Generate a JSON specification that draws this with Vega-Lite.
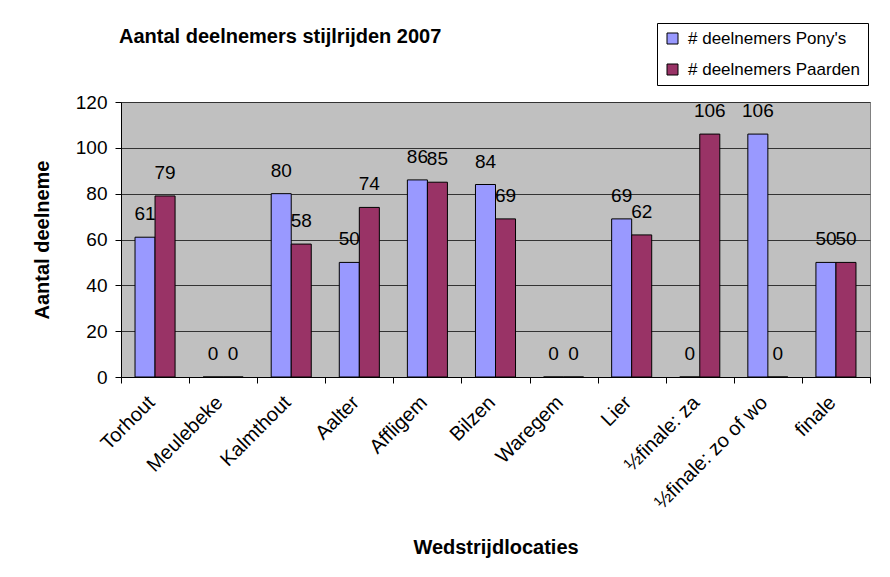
{
  "$schema": "https://vega.github.io/schema/vega-lite/v6.json",
  "width": 749,
  "height": 275,
  "autosize": {"type": "none"},
  "padding": {"left": 121, "top": 102, "right": 20, "bottom": 200},
  "background": "white",
  "title": {
    "text": "Aantal deelnemers stijlrijden 2007",
    "anchor": "start",
    "frame": "group",
    "dx": -2,
    "offset": -40,
    "baseline": "alphabetic",
    "font": "Liberation Sans",
    "fontSize": 20,
    "fontWeight": "bold",
    "color": "black"
  },
  "data": {
    "values": [
      {"locatie": "Torhout", "reeks": "# deelnemers Pony's", "aantal": 61},
      {"locatie": "Torhout", "reeks": "# deelnemers Paarden", "aantal": 79},
      {"locatie": "Meulebeke", "reeks": "# deelnemers Pony's", "aantal": 0},
      {"locatie": "Meulebeke", "reeks": "# deelnemers Paarden", "aantal": 0},
      {"locatie": "Kalmthout", "reeks": "# deelnemers Pony's", "aantal": 80},
      {"locatie": "Kalmthout", "reeks": "# deelnemers Paarden", "aantal": 58},
      {"locatie": "Aalter", "reeks": "# deelnemers Pony's", "aantal": 50},
      {"locatie": "Aalter", "reeks": "# deelnemers Paarden", "aantal": 74},
      {"locatie": "Affligem", "reeks": "# deelnemers Pony's", "aantal": 86},
      {"locatie": "Affligem", "reeks": "# deelnemers Paarden", "aantal": 85},
      {"locatie": "Bilzen", "reeks": "# deelnemers Pony's", "aantal": 84},
      {"locatie": "Bilzen", "reeks": "# deelnemers Paarden", "aantal": 69},
      {"locatie": "Waregem", "reeks": "# deelnemers Pony's", "aantal": 0},
      {"locatie": "Waregem", "reeks": "# deelnemers Paarden", "aantal": 0},
      {"locatie": "Lier", "reeks": "# deelnemers Pony's", "aantal": 69},
      {"locatie": "Lier", "reeks": "# deelnemers Paarden", "aantal": 62},
      {"locatie": "½finale: za", "reeks": "# deelnemers Pony's", "aantal": 0},
      {"locatie": "½finale: za", "reeks": "# deelnemers Paarden", "aantal": 106},
      {"locatie": "½finale: zo of wo", "reeks": "# deelnemers Pony's", "aantal": 106},
      {"locatie": "½finale: zo of wo", "reeks": "# deelnemers Paarden", "aantal": 0},
      {"locatie": "finale", "reeks": "# deelnemers Pony's", "aantal": 50},
      {"locatie": "finale", "reeks": "# deelnemers Paarden", "aantal": 50}
    ]
  },
  "encoding": {
    "x": {
      "field": "locatie",
      "type": "nominal",
      "sort": null,
      "scale": {"paddingInner": 0, "paddingOuter": 0},
      "axis": {
        "title": "Wedstrijdlocaties",
        "titleFont": "Liberation Sans",
        "titleFontSize": 20,
        "titleFontWeight": "bold",
        "titleColor": "black",
        "titleY": 176,
        "titleBaseline": "alphabetic",
        "labelAngle": -45,
        "labelAlign": "right",
        "labelBaseline": "top",
        "labelFont": "Liberation Sans",
        "labelFontSize": 20,
        "labelColor": "black",
        "labelPadding": 9,
        "labelOffset": -11,
        "labelLimit": 300,
        "tickBand": "extent",
        "tickSize": 6,
        "tickColor": "black",
        "domainColor": "black",
        "grid": false
      }
    },
    "xOffset": {
      "field": "reeks",
      "type": "nominal",
      "sort": ["# deelnemers Pony's", "# deelnemers Paarden"],
      "scale": {"paddingInner": 0, "paddingOuter": 0.7}
    },
    "y": {
      "field": "aantal",
      "type": "quantitative",
      "scale": {"domain": [0, 120], "nice": false},
      "axis": {
        "title": "Aantal deelneme",
        "titleFont": "Liberation Sans",
        "titleFontSize": 20,
        "titleFontWeight": "bold",
        "titleColor": "black",
        "titleX": -79,
        "titleY": 137.5,
        "titleAlign": "center",
        "titleBaseline": "middle",
        "values": [0, 20, 40, 60, 80, 100, 120],
        "labelFont": "Liberation Sans",
        "labelFontSize": 19,
        "labelColor": "black",
        "labelPadding": 8,
        "tickSize": 6,
        "tickColor": "black",
        "domainColor": "black",
        "gridColor": "#333333",
        "gridWidth": 1
      }
    }
  },
  "layer": [
    {
      "mark": {"type": "bar", "stroke": "black", "strokeWidth": 1},
      "encoding": {
        "color": {
          "field": "reeks",
          "type": "nominal",
          "scale": {
            "domain": ["# deelnemers Pony's", "# deelnemers Paarden"],
            "range": ["#9999FF", "#993366"]
          },
          "legend": {
            "title": null,
            "orient": "none",
            "legendX": 536,
            "legendY": -79,
            "fillColor": "white",
            "strokeColor": "black",
            "padding": 7,
            "symbolType": "square",
            "symbolSize": 121,
            "symbolStrokeColor": "black",
            "symbolStrokeWidth": 1,
            "symbolOpacity": 1,
            "labelFont": "Liberation Sans",
            "labelFontSize": 17,
            "labelColor": "black",
            "labelOffset": 7,
            "labelLimit": 300,
            "rowPadding": 13
          }
        }
      }
    },
    {
      "mark": {
        "type": "text",
        "baseline": "alphabetic",
        "dy": -17,
        "font": "Liberation Sans",
        "fontSize": 19,
        "color": "black"
      },
      "encoding": {"text": {"field": "aantal", "type": "quantitative"}}
    }
  ],
  "config": {
    "view": {"fill": "#C0C0C0", "stroke": "#808080"}
  }
}
